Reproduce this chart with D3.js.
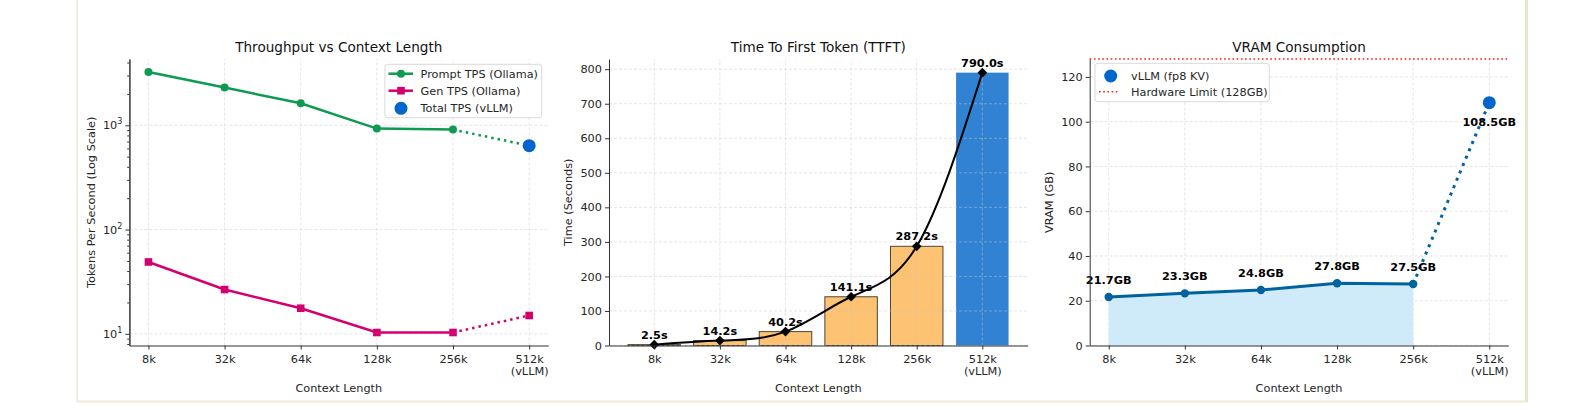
<!DOCTYPE html>
<html>
<head>
<meta charset="utf-8">
<script src="https://cdn.jsdelivr.net/npm/d3@7"></script>
<style>
  html, body { margin: 0; padding: 0; background: #fff; }
  svg { display: block; }
</style>
</head>
<body>
<script>
// chart values
const contextLabels = ['8k', '32k', '64k', '128k', '256k', '512k\n(vLLM)'];
const promptTps = [3240, 2300, 1625, 930, 910];     // Ollama, 8k..256k
const genTps = [48.9, 26.6, 17.6, 10.3, 10.3];      // Ollama, 8k..256k
const vllmTotalTps = 638;                           // 512k
const vllmGenTps = 15.0;                            // 512k
const ttftSeconds = [2.5, 14.2, 40.2, 141.1, 287.2, 790.0];
const vramGb = [21.7, 23.3, 24.8, 27.8, 27.5];      // 8k..256k
const vllmVramGb = 108.5;                           // 512k
const hardwareLimitGb = 128;

const logTicks = [10, 100, 1000];
const ttftTicks = [0, 100, 200, 300, 400, 500, 600, 700, 800];
const vramTicks = [0, 20, 40, 60, 80, 100, 120];

const FONT = 'DejaVu Sans, Verdana, sans-serif';
const W = 1593, H = 410;
const TOP = 59, BOTTOM = 345.5;

const svg = d3.select('body')
    .append('svg')
    .attr('width', W)
    .attr('height', H);

// beige page frame
svg.append('rect').attr('x', 76.5).attr('y', 0).attr('width', 1.5).attr('height', 402).attr('fill', '#f0e9d6');
svg.append('rect').attr('x', 77).attr('y', 400.5).attr('width', 1451).attr('height', 2).attr('fill', '#f0e9d6');
svg.append('rect').attr('x', 1525).attr('y', 0).attr('width', 3).attr('height', 402).attr('fill', '#ebe4d0');

function styleAxis(ag) {
    ag.attr('font-family', FONT).attr('font-size', 11.3);
    ag.selectAll('text').attr('fill', '#262626');
    ag.selectAll('line').attr('stroke', '#333');
    ag.select('.domain').attr('stroke', '#333').attr('stroke-width', 1);
}

function addXAxis(g, x) {
    const axis = d3.axisBottom(x)
        .tickValues(d3.range(contextLabels.length))
        .tickSize(4)
        .tickSizeOuter(0);
    const ag = g.append('g')
        .attr('transform', `translate(0, ${BOTTOM})`)
        .call(axis);
    // multi-line labels ("512k" / "(vLLM)")
    ag.selectAll('.tick text').each(function(d) {
        const t = d3.select(this).attr('dy', null).attr('y', 17.5).text(null);
        contextLabels[d].split('\n').forEach((s, k) => {
            t.append('tspan').attr('x', 0).attr('dy', k ? 11.7 : 0).text(s);
        });
    });
    styleAxis(ag);
}

function addGrid(g, x, y, yTicks) {
    const [x0, x1] = x.range();
    const [y0, y1] = y.range();
    g.append('g').selectAll('line')
        .data(d3.range(contextLabels.length))
        .enter().append('line')
        .attr('x1', d => x(d)).attr('x2', d => x(d))
        .attr('y1', y0).attr('y2', y1)
        .attr('stroke', '#c8c8c8').attr('stroke-opacity', 0.6)
        .attr('stroke-width', 0.8).attr('stroke-dasharray', '3,2');
    g.append('g').selectAll('line')
        .data(yTicks)
        .enter().append('line')
        .attr('x1', x0).attr('x2', x1)
        .attr('y1', d => y(d)).attr('y2', d => y(d))
        .attr('stroke', '#c8c8c8').attr('stroke-opacity', 0.6)
        .attr('stroke-width', 0.8).attr('stroke-dasharray', '3,2');
}

function addLabels(g, title, left, right, yLabelX, yLabel) {
    g.append('text')
        .attr('x', (left + right) / 2).attr('y', 52)
        .attr('text-anchor', 'middle')
        .attr('font-family', FONT).attr('font-size', 13.6).attr('fill', '#111')
        .text(title);
    g.append('text')
        .attr('x', (left + right) / 2).attr('y', 391.5)
        .attr('text-anchor', 'middle')
        .attr('font-family', FONT).attr('font-size', 11.3).attr('fill', '#262626')
        .text('Context Length');
    g.append('text')
        .attr('transform', `translate(${yLabelX}, ${(TOP + BOTTOM) / 2}) rotate(-90)`)
        .attr('text-anchor', 'middle')
        .attr('font-family', FONT).attr('font-size', 11.3).attr('fill', '#262626')
        .text(yLabel);
}

function legendBox(g, x, y, w, h) {
    g.append('rect')
        .attr('x', x).attr('y', y).attr('width', w).attr('height', h)
        .attr('rx', 3)
        .attr('fill', '#fff').attr('fill-opacity', 0.85)
        .attr('stroke', '#d9d9d9').attr('stroke-width', 1);
}

function legendText(g, x, y, s) {
    g.append('text')
        .attr('x', x).attr('y', y + 4)
        .attr('font-family', FONT).attr('font-size', 11.3).attr('fill', '#262626')
        .text(s);
}

// ---------- Chart 1: throughput (log scale) ----------
function drawThroughput() {
    const left = 129.4, right = 548.2;
    const g = svg.append('g');
    const x = d3.scaleLinear().domain([-0.25, 5.25]).range([left, right]);
    const y = d3.scaleLog().domain([7.73, 4325]).range([BOTTOM, TOP]);
    const green = '#0f9a52', pink = '#d4006e', blue = '#0066cc';

    addGrid(g, x, y, logTicks);

    const line = d3.line().x(d => x(d[0])).y(d => y(d[1]));
    const promptPts = promptTps.map((v, i) => [i, v]);
    const genPts = genTps.map((v, i) => [i, v]);

    g.append('path').datum([promptPts[4], [5, vllmTotalTps]])
        .attr('d', line).attr('fill', 'none')
        .attr('stroke', green).attr('stroke-width', 2.5).attr('stroke-dasharray', '2.5,4');
    g.append('path').datum([genPts[4], [5, vllmGenTps]])
        .attr('d', line).attr('fill', 'none')
        .attr('stroke', pink).attr('stroke-width', 2.5).attr('stroke-dasharray', '2.5,4');

    g.append('path').datum(promptPts)
        .attr('d', line).attr('fill', 'none')
        .attr('stroke', green).attr('stroke-width', 2.5);
    g.selectAll('.prompt-dot').data(promptPts).enter().append('circle')
        .attr('cx', d => x(d[0])).attr('cy', d => y(d[1])).attr('r', 4)
        .attr('fill', green);

    g.append('path').datum(genPts)
        .attr('d', line).attr('fill', 'none')
        .attr('stroke', pink).attr('stroke-width', 2.5);
    g.selectAll('.gen-sq').data(genPts.concat([[5, vllmGenTps]])).enter().append('rect')
        .attr('x', d => x(d[0]) - 3.8).attr('y', d => y(d[1]) - 3.8)
        .attr('width', 7.6).attr('height', 7.6)
        .attr('fill', pink);

    g.append('circle')
        .attr('cx', x(5)).attr('cy', y(vllmTotalTps)).attr('r', 6.5)
        .attr('fill', blue);

    addXAxis(g, x);

    // log y axis: majors with superscript labels, minors without labels
    const minor = [];
    [1, 10, 100, 1000].forEach(p => d3.range(2, 10).forEach(k => {
        const v = p * k;
        if (v > y.domain()[0] && v < y.domain()[1]) minor.push(v);
    }));
    const minorAxis = g.append('g')
        .attr('transform', `translate(${left}, 0)`)
        .call(d3.axisLeft(y).tickValues(minor).tickSize(2.2).tickFormat('').tickSizeOuter(0));
    styleAxis(minorAxis);
    const ya = g.append('g')
        .attr('transform', `translate(${left}, 0)`)
        .call(d3.axisLeft(y).tickValues(logTicks).tickSize(4).tickPadding(3).tickSizeOuter(0));
    ya.selectAll('.tick text').each(function(d) {
        const t = d3.select(this).text(null);
        t.append('tspan').text('10');
        t.append('tspan').attr('dy', -5).attr('font-size', 8).text(Math.round(Math.log10(d)));
    });
    styleAxis(ya);

    addLabels(g, 'Throughput vs Context Length', left, right, 95, 'Tokens Per Second (Log Scale)');

    const lg = g.append('g');
    legendBox(lg, 384.9, 64.3, 156.8, 53.4);
    lg.append('line').attr('x1', 388.5).attr('x2', 413).attr('y1', 73.7).attr('y2', 73.7)
        .attr('stroke', green).attr('stroke-width', 2.5);
    lg.append('circle').attr('cx', 401).attr('cy', 73.7).attr('r', 4).attr('fill', green);
    legendText(lg, 420.6, 73.7, 'Prompt TPS (Ollama)');
    lg.append('line').attr('x1', 388.5).attr('x2', 413).attr('y1', 90.7).attr('y2', 90.7)
        .attr('stroke', pink).attr('stroke-width', 2.5);
    lg.append('rect').attr('x', 401 - 3.8).attr('y', 90.7 - 3.8).attr('width', 7.6).attr('height', 7.6).attr('fill', pink);
    legendText(lg, 420.6, 90.7, 'Gen TPS (Ollama)');
    lg.append('circle').attr('cx', 401).attr('cy', 108.3).attr('r', 6.5).attr('fill', blue);
    legendText(lg, 420.6, 108.3, 'Total TPS (vLLM)');
}

// ---------- Chart 2: TTFT bars + curve ----------
function drawTtft() {
    const left = 609, right = 1027.6;
    const g = svg.append('g');
    const x = d3.scaleLinear().domain([-0.69, 5.69]).range([left, right]);
    const y = d3.scaleLinear().domain([0, 829.5]).range([BOTTOM, TOP]);
    const barW = x(0.4) - x(-0.4);
    const last = ttftSeconds.length - 1;

    g.selectAll('.bar').data(ttftSeconds).enter().append('rect')
        .attr('x', (d, i) => x(i) - barW / 2)
        .attr('y', d => y(d))
        .attr('width', barW)
        .attr('height', d => y(0) - y(d))
        .attr('fill', (d, i) => i === last ? '#3182d2' : '#fdc272')
        .attr('stroke', (d, i) => i === last ? 'none' : '#4d4538')
        .attr('stroke-width', 1);

    addGrid(g, x, y, ttftTicks);

    const pts = ttftSeconds.map((v, i) => [i, v]);
    g.append('path').datum(pts)
        .attr('d', d3.line().curve(d3.curveNatural).x(d => x(d[0])).y(d => y(d[1])))
        .attr('fill', 'none').attr('stroke', '#000').attr('stroke-width', 2);
    g.selectAll('.diamond').data(pts).enter().append('path')
        .attr('d', d3.symbol().type(d3.symbolDiamond2).size(60))
        .attr('transform', d => `translate(${x(d[0])}, ${y(d[1])})`)
        .attr('fill', '#000');

    g.selectAll('.val').data(pts).enter().append('text')
        .attr('x', d => x(d[0])).attr('y', d => y(d[1]) - 6)
        .attr('text-anchor', 'middle')
        .attr('font-family', FONT).attr('font-size', 11.3).attr('font-weight', 'bold').attr('fill', '#000')
        .text(d => d3.format('.1f')(d[1]) + 's');

    addXAxis(g, x);
    const ya = g.append('g')
        .attr('transform', `translate(${left}, 0)`)
        .call(d3.axisLeft(y).tickValues(ttftTicks).tickSize(4).tickPadding(3).tickSizeOuter(0));
    styleAxis(ya);

    addLabels(g, 'Time To First Token (TTFT)', left, right, 572, 'Time (Seconds)');
}

// ---------- Chart 3: VRAM ----------
function drawVram() {
    const left = 1089.7, right = 1508.3;
    const g = svg.append('g');
    const x = d3.scaleLinear().domain([-0.25, 5.25]).range([left, right]);
    const y = d3.scaleLinear().domain([0, 128]).range([BOTTOM, TOP]);
    const lineColor = '#00629e', blue = '#0066cc';

    addGrid(g, x, y, vramTicks);

    const pts = vramGb.map((v, i) => [i, v]);
    g.append('path').datum(pts)
        .attr('d', d3.area().x(d => x(d[0])).y0(y(0)).y1(d => y(d[1])))
        .attr('fill', '#cfebfa');

    const line = d3.line().x(d => x(d[0])).y(d => y(d[1]));
    g.append('path').datum([pts[4], [5, vllmVramGb]])
        .attr('d', line).attr('fill', 'none')
        .attr('stroke', lineColor).attr('stroke-width', 3).attr('stroke-dasharray', '3,5');
    g.append('path').datum(pts)
        .attr('d', line).attr('fill', 'none')
        .attr('stroke', lineColor).attr('stroke-width', 3);
    g.selectAll('.vdot').data(pts).enter().append('circle')
        .attr('cx', d => x(d[0])).attr('cy', d => y(d[1])).attr('r', 4.2)
        .attr('fill', lineColor);
    g.append('circle')
        .attr('cx', x(5)).attr('cy', y(vllmVramGb)).attr('r', 6.5)
        .attr('fill', blue);

    g.append('line')
        .attr('x1', left).attr('x2', right)
        .attr('y1', y(hardwareLimitGb)).attr('y2', y(hardwareLimitGb))
        .attr('stroke', '#ff1a1a').attr('stroke-width', 1.6).attr('stroke-dasharray', '1.6,2.6');

    g.selectAll('.vval').data(pts).enter().append('text')
        .attr('x', d => x(d[0])).attr('y', d => y(d[1]) - 13)
        .attr('text-anchor', 'middle')
        .attr('font-family', FONT).attr('font-size', 11.3).attr('font-weight', 'bold').attr('fill', '#000')
        .text(d => d[1].toFixed(1) + 'GB');
    g.append('text')
        .attr('x', x(5)).attr('y', y(vllmVramGb) + 23)
        .attr('text-anchor', 'middle')
        .attr('font-family', FONT).attr('font-size', 11.3).attr('font-weight', 'bold').attr('fill', '#000')
        .text(vllmVramGb.toFixed(1) + 'GB');

    addXAxis(g, x);
    const ya = g.append('g')
        .attr('transform', `translate(${left}, 0)`)
        .call(d3.axisLeft(y).tickValues(vramTicks).tickSize(4).tickPadding(3).tickSizeOuter(0));
    styleAxis(ya);

    addLabels(g, 'VRAM Consumption', left, right, 1053, 'VRAM (GB)');

    const lg = g.append('g');
    legendBox(lg, 1095, 63.3, 174.3, 38.4);
    lg.append('circle').attr('cx', 1110.7).attr('cy', 76).attr('r', 6.5).attr('fill', blue);
    legendText(lg, 1131, 76, 'vLLM (fp8 KV)');
    lg.append('line').attr('x1', 1099).attr('x2', 1120).attr('y1', 91.7).attr('y2', 91.7)
        .attr('stroke', '#ff1a1a').attr('stroke-width', 1.6).attr('stroke-dasharray', '1.6,2.6');
    legendText(lg, 1131, 91.7, 'Hardware Limit (128GB)');
}

drawThroughput();
drawTtft();
drawVram();
</script>
</body>
</html>
